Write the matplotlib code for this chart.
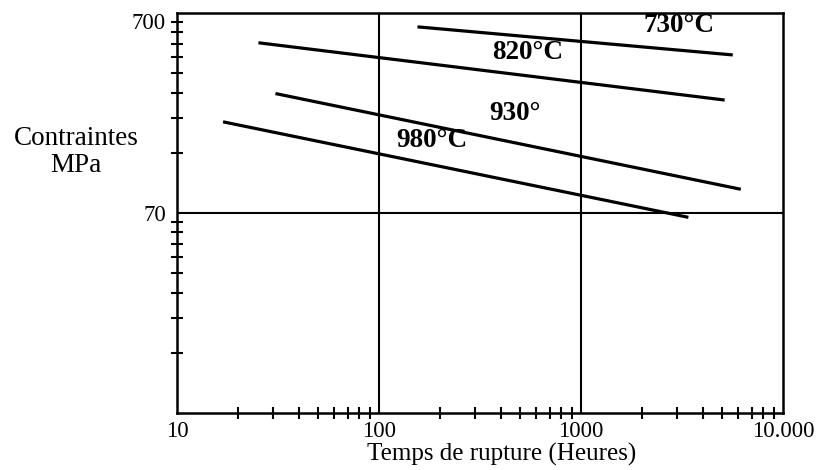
import matplotlib
matplotlib.use("Agg")
import matplotlib.pyplot as plt
from matplotlib.ticker import FixedLocator, FixedFormatter, NullFormatter
import numpy as np

plt.rcParams['font.family'] = ['Liberation Serif', 'DejaVu Serif']

# Data - each curve as (start, end) in (hours, MPa)
labels = ["730°C", "820°C", "930°", "980°C"]
x_730 = [155, 5640]
y_730 = [597, 432]
x_820 = [25.3, 5140]
y_820 = [497, 257]
x_930 = [30.7, 6180]
y_930 = [277, 92]
x_980 = [16.9, 3400]
y_980 = [200, 66.6]
label_x = [3040, 545, 470, 182]
label_y = [603, 442, 221, 161]

x_ticks = [10, 100, 1000, 10000]
x_ticklabels = ["10", "100", "1000", "10.000"]
y_ticks = [70, 700]
y_ticklabels = ["70", "700"]

fig = plt.figure(figsize=(8.2, 4.7), dpi=100)
ax = fig.add_axes([0.2159, 0.1213, 0.7390, 0.8510])
ax.set_xscale('log')
ax.set_yscale('log')
ax.set_xlim(10, 10000)
ax.set_ylim(7, 700)

for xs, ys in [(x_730, y_730), (x_820, y_820), (x_930, y_930), (x_980, y_980)]:
    ax.plot(xs, ys, color='black', lw=2.3, solid_capstyle='butt')

for t, lx, ly in zip(labels, label_x, label_y):
    ax.text(lx, ly, t, ha='center', va='center', fontsize=19.5, fontweight='bold')

# grid lines
for gx in [100, 1000]:
    ax.axvline(gx, color='black', lw=1.5)
ax.axhline(70, color='black', lw=1.5)

ax.xaxis.set_major_locator(FixedLocator(x_ticks))
ax.xaxis.set_major_formatter(FixedFormatter(x_ticklabels))
ax.yaxis.set_major_locator(FixedLocator(y_ticks))
ax.yaxis.set_major_formatter(FixedFormatter(y_ticklabels))

xminor = [m * d for d in [10, 100, 1000] for m in range(2, 10)]
yminor = [m * d for d in [7, 70] for m in range(2, 10)]
ax.xaxis.set_minor_locator(FixedLocator(xminor))
ax.yaxis.set_minor_locator(FixedLocator(yminor))
ax.xaxis.set_minor_formatter(NullFormatter())
ax.yaxis.set_minor_formatter(NullFormatter())

ax.tick_params(which='both', direction='inout', width=1.5, labelsize=16.5)
ax.tick_params(which='major', length=0, pad=6)
ax.tick_params(which='minor', length=8)
ax.tick_params(axis='y', which='major', pad=8)
for lbl in ax.get_yticklabels():
    if lbl.get_text() == "700":
        lbl.set_va('top')

for s in ax.spines.values():
    s.set_linewidth(1.8)

ax.set_xlabel("Temps de rupture (Heures)", fontsize=18)
ax.xaxis.set_label_coords(0.535, -0.075)
fig.text(0.093, 0.676, "Contraintes\nMPa", ha='center', va='center', fontsize=19.5, linespacing=1.1)

fig.savefig("out.png", dpi=100)
